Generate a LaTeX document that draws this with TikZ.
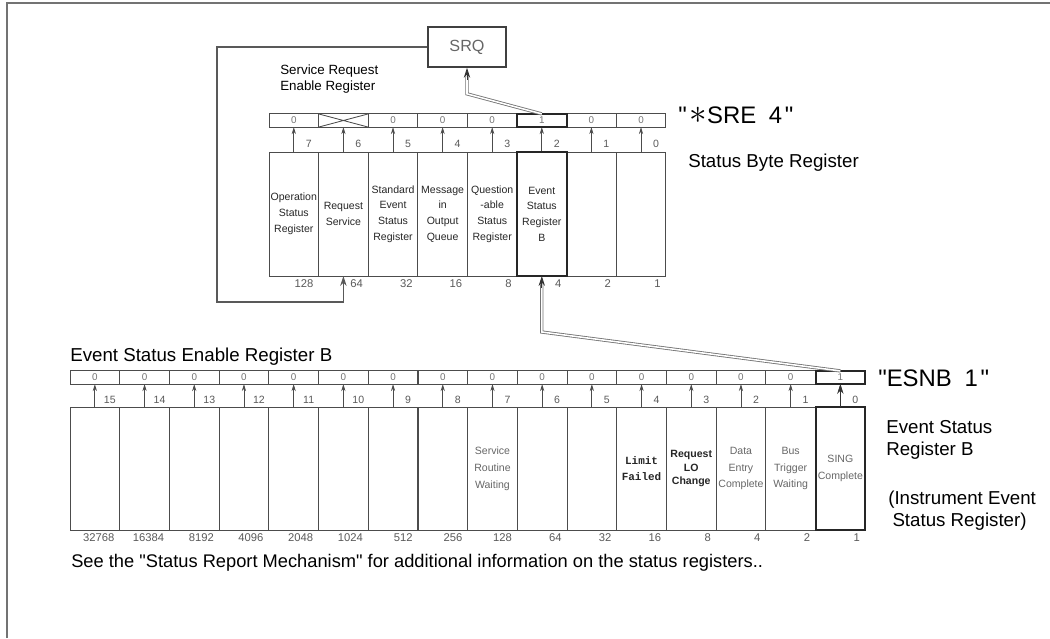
\documentclass[tikz,border=0pt]{standalone}
\usepackage{fontspec}
\setmainfont{Liberation Sans}
\newfontfamily\limitfont{Liberation Mono}
\usetikzlibrary{calc,arrows.meta}

\begin{document}
\begin{tikzpicture}[x=0.025cm, y=-0.025cm,
    reg/.style={draw=black!70, line width=0.6pt, inner sep=0pt, outer sep=0pt, minimum width=1.24cm},
    topbit/.style={reg, minimum height=0.33cm, font=\fontsize{7}{7}\selectfont, text=black!55},
    bigcell/.style={reg, minimum height=3.1cm, align=center, font=\fontsize{7.5}{11.2}\selectfont, text=black!85},
    plaintxt/.style={},
    dimtxt/.style={text=black!60, font=\fontsize{7.5}{12}\selectfont},
    limittxt/.style={font=\limitfont\bfseries\fontsize{7.8}{11.8}\selectfont},
    reqtxt/.style={font=\bfseries\fontsize{7.5}{9.3}\selectfont},
    hot/.style={draw=black!85, line width=1.4pt},
    bitno/.style={font=\fontsize{7.5}{9}\selectfont, text=black!65, inner sep=0pt},
    weight/.style={font=\fontsize{8}{9}\selectfont, text=black!65, inner sep=0pt, anchor=north east},
    bitarrow/.style={draw=black!70, line width=0.6pt, -{Stealth[length=5pt,width=3pt]}},
    bigarrow/.style={draw=black!80, line width=1pt, -{Stealth[length=7pt,width=4.5pt]}},
    feed/.style={draw=black!65, line width=1.1pt, -{Stealth[length=7pt,width=4.5pt]}},
    dbl/.style={draw=black!55, double=white, double distance=1.1pt, line width=0.6pt},
    frame/.style={draw=black!55, line width=1.4pt},
    label/.style={font=\fontsize{13.3}{15.6}\selectfont, inner sep=0pt, anchor=west, align=left},
    cmd/.style={font=\fontsize{17}{19}\selectfont, inner sep=0pt, anchor=west}]
  \useasboundingbox (0,0) rectangle (1050,638);
  \draw[frame] (7,638) -- (7,3) -- (1050,3);

  \foreach \b/\w/\v/\txt in {7/128/0/{Operation\\Status\\Register}, 6/64//{Request\\Service},
      5/32/0/{Standard\\Event\\Status\\Register}, 4/16/0/{Message\\in\\Output\\Queue},
      3/8/0/{Question\\-able\\Status\\Register}, 2/4/1/{Event\\Status\\Register\\B}, 1/2/0/{}, 0/1/0/{}}{
    \pgfmathsetmacro\cx{293.8+49.6*(7-\b)}
    \node[bigcell] (sb\b) at (\cx,214) {\txt};
    \node[topbit] (sre\b) at (\cx,120.5) {\v};
    \node[bitno] (sn\b) at (\cx+15,144) {\b};
    \node[weight] (sw\b) at ($(sb\b.south east)+(-5,3)$) {\w};
    \draw[bitarrow] (sb\b.north) -- (sre\b.south);
  }

  \foreach \b/\w/\v/\s/\txt in {15/32768/0/plaintxt/{}, 14/16384/0/plaintxt/{}, 13/8192/0/plaintxt/{},
      12/4096/0/plaintxt/{}, 11/2048/0/plaintxt/{}, 10/1024/0/plaintxt/{}, 9/512/0/plaintxt/{},
      8/256/0/plaintxt/{}, 7/128/0/dimtxt/{Service\\Routine\\Waiting}, 6/64/0/plaintxt/{},
      5/32/0/plaintxt/{}, 4/16/0/limittxt/{Limit\\Failed}, 3/8/0/reqtxt/{Request\\LO\\Change},
      2/4/0/dimtxt/{Data\\Entry\\Complete}, 1/2/0/dimtxt/{Bus\\Trigger\\Waiting},
      0/1/1/dimtxt/{SING\\Complete}}{
    \pgfmathsetmacro\cx{94.85+49.7*(15-\b)}
    \node[bigcell, minimum height=3.075cm, \s] (esr\b) at (\cx,468.5) {\txt};
    \node[topbit] (esne\b) at (\cx,377.5) {\v};
    \node[bitno] (en\b) at (\cx+15,400) {\b};
    \node[weight] (ew\b) at ($(esr\b.south east)+(-5,3)$) {\w};
    \draw[bitarrow] (esr\b.north) -- (esne\b.south);
  }

  \draw[hot] (sre2.north west) rectangle (sre2.south east);
  \draw[hot] (sb2.north west) rectangle (sb2.south east);
  \draw[hot] (esne0.north west) rectangle (esne0.south east);
  \draw[hot] (esr0.north west) rectangle (esr0.south east);
  \draw[black!70, line width=0.6pt] (sre6.north west) -- (sre6.south east)
    (sre6.south west) -- (sre6.north east);
  \draw[bigarrow] (esr0.north) -- (esne0.south);

  \node[draw=black!75, line width=1.2pt, minimum width=1.95cm, minimum height=1cm,
    font=\fontsize{11.5}{12}\selectfont, text=black!60] (srq) at (467,47) {SRQ};

  \coordinate (fb) at (217,302);
  \draw[feed] (srq.west) -| (fb) -| (sb6.south);

  \coordinate (kink1) at ($(srq.south)+(0,26)$);
  \draw[dbl, shorten >=6pt] (sre2.north) -- (kink1) -- (srq.south);
  \draw[bigarrow, line width=0.6pt] ($(srq.south)+(0,12)$) -- (srq.south);

  \coordinate (kink2) at ($(sb2.south)+(0,56)$);
  \draw[dbl, shorten >=6pt] (esne0.north) -- (kink2) -- (sb2.south);
  \draw[bigarrow, line width=0.6pt] ($(sb2.south)+(0,12)$) -- (sb2.south);

  \node[font=\fontsize{9.5}{10.7}\selectfont, inner sep=0pt, anchor=north west, align=left]
    (srelbl) at (280,65) {Service Request\\Enable Register};
  \node[cmd] (srecmd) at (678,115)
    {\textquotedbl\hspace{2pt}{\fontsize{25}{25}\selectfont$\ast$}SRE\hspace{9pt}4\hspace{2pt}\textquotedbl};
  \node[label] (sblbl) at (688,163) {Status Byte Register};
  \node[label] (esnelbl) at (70,357) {Event Status Enable Register B};
  \node[cmd] (esnbcmd) at (878,378) {\textquotedbl ESNB\hspace{9pt}1\hspace{2pt}\textquotedbl};
  \node[label] (esrlbl) at (886,440) {Event Status\\Register B};
  \node[label] (instlbl) at (888,511) {(Instrument Event\\\hspace{3pt}Status Register)};
  \node[label, font=\fontsize{13}{15}\selectfont] (seelbl) at (71,563)
    {See the \textquotedbl Status Report Mechanism\textquotedbl{} for additional information on the status registers..};
\end{tikzpicture}
\end{document}
